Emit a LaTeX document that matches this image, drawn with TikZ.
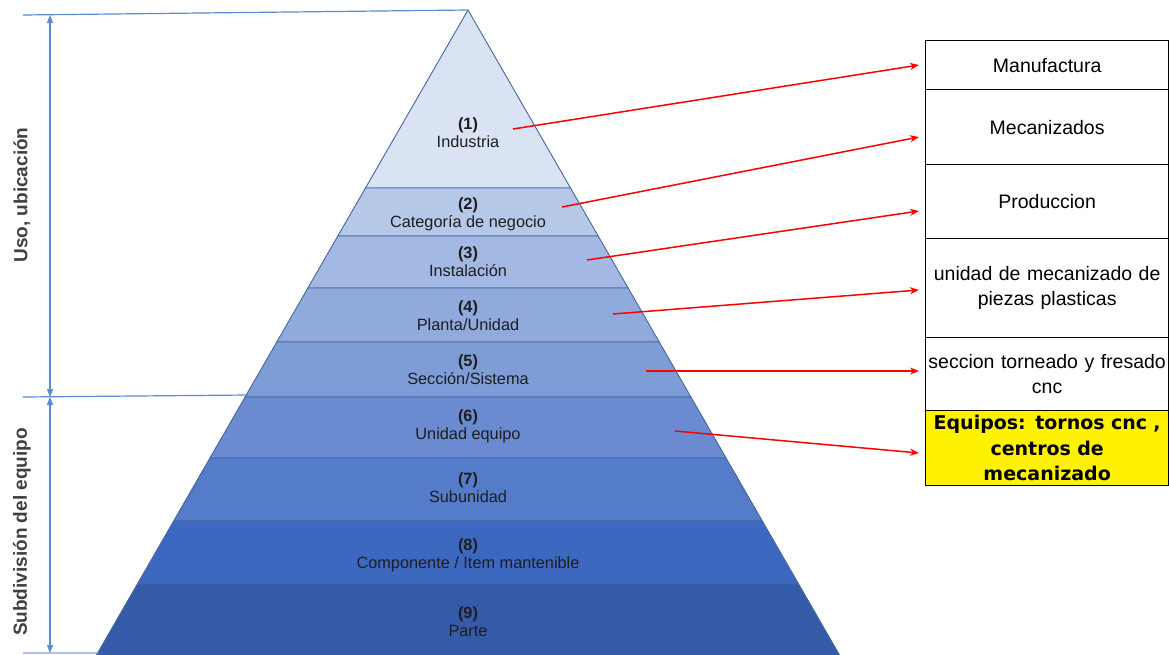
\documentclass[tikz,border=0pt]{standalone}
\usepackage{fontspec}
\setmainfont{Liberation Sans}
\newfontfamily\verafont{DejaVu Sans}
\usetikzlibrary{arrows.meta}

\definecolor{lay1}{HTML}{DAE3F3}
\definecolor{lay2}{HTML}{B6C8E8}
\definecolor{lay3}{HTML}{A3B8E2}
\definecolor{lay4}{HTML}{90AADC}
\definecolor{lay5}{HTML}{7E9CD6}
\definecolor{lay6}{HTML}{6A8BD1}
\definecolor{lay7}{HTML}{557CC9}
\definecolor{lay8}{HTML}{3D68BF}
\definecolor{lay9}{HTML}{355AA8}
\definecolor{laybord}{HTML}{46659F}
\definecolor{dimblue}{HTML}{5B8AD6}
\definecolor{txtdark}{HTML}{1E1E1E}

\tikzset{
  layerlabel/.style={align=center, text=txtdark, inner sep=0pt,
    font=\fontsize{16.3}{18}\selectfont},
  sidelabel/.style={rotate=90, text=black!75, inner sep=0pt,
    font=\bfseries\fontsize{19}{21}\selectfont},
  infobox/.style={draw=black, line width=1.3pt, anchor=north west,
    minimum width=243pt, text width=241pt, align=center, inner sep=0pt,
    font=\fontsize{19.5}{25}\selectfont},
  redarrow/.style={-{Stealth[length=9pt,width=7pt]}, red, line width=1.5pt},
  dimline/.style={dimblue, line width=1.2pt},
  dimarrow/.style={dimblue, line width=1.2pt,
    {Triangle[length=8pt,width=6pt]}-{Triangle[length=8pt,width=6pt]}}
}

\begin{document}
\begin{tikzpicture}[x=1pt,y=-1pt]
\useasboundingbox (0,0) rectangle (1169,654);

% pyramid
\foreach \ya/\yb/\c in {10/188/lay1,188/236/lay2,236/288/lay3,288/342/lay4,
    342/397/lay5,397/458/lay6,458/521/lay7,521/584/lay8,584/662/lay9}{
	\filldraw[fill=\c, draw=laybord, line width=0.9pt]
	  ({468-0.576*(\ya-10)},\ya) -- ({468+0.576*(\ya-10)},\ya)
	  -- ({468+0.576*(\yb-10)},\yb) -- ({468-0.576*(\yb-10)},\yb) -- cycle;
}

\node[layerlabel] (n1) at (468,133) {\textbf{(1)}\\Industria};
\node[layerlabel] (n2) at (468,214) {\textbf{(2)}\\Categoría de negocio};
\node[layerlabel] (n3) at (468,262) {\textbf{(3)}\\Instalación};
\node[layerlabel] (n4) at (468,315.5) {\textbf{(4)}\\Planta/Unidad};
\node[layerlabel] (n5) at (468,369.5) {\textbf{(5)}\\Sección/Sistema};
\node[layerlabel] (n6) at (468,426.5) {\textbf{(6)}\\Unidad equipo};
\node[layerlabel] (n7) at (468,487.5) {\textbf{(7)}\\Subunidad};
\node[layerlabel] (n8) at (468,555) {\textbf{(8)}\\Componente / Item mantenible};
\node[layerlabel] (n9) at (468,621.5) {\textbf{(9)}\\Parte};

% left dimensions
\coordinate (apex) at (468,10);
\coordinate (h1) at (23,15);
\coordinate (h2) at (23,397);
\coordinate (e2) at (248,395);
\coordinate (h3) at (23,653);
\coordinate (e3) at (100,653);
\coordinate (u1) at (50,15);
\coordinate (u2) at (50,397);
\coordinate (u3) at (50,653);

\draw[dimline] (h1) -- (apex);
\draw[dimline] (h2) -- (e2);
\draw[dimline, opacity=0.5] (h3) -- (e3);
\draw[dimarrow] (u1) -- (u2);
\draw[dimarrow] (u2) -- (u3);

\node[sidelabel] (uso) at (22,195) {Uso, ubicación};
\node[sidelabel] (sub) at (22,532) {Subdivisión del equipo};

% boxes
\node[infobox, minimum height=49pt] (b1) at (925,40) {Manufactura};
\node[infobox, minimum height=75pt] (b2) at (925,89) {Mecanizados};
\node[infobox, minimum height=74pt] (b3) at (925,164) {Produccion};
\node[infobox, minimum height=99pt] (b4) at (925,238) {unidad de mecanizado de\\piezas plasticas};
\node[infobox, minimum height=73pt] (b5) at (925,337) {seccion torneado y fresado\\cnc};
\node[infobox, minimum height=75pt, fill=yellow,
      font=\verafont\bfseries\fontsize{19}{25.5}\selectfont] (b6) at (925,410)
      {Equipos: tornos cnc ,\\centros de\\mecanizado};

% red arrows
\coordinate (s1) at (513,129);
\coordinate (s2) at (562,207);
\coordinate (s3) at (587,260);
\coordinate (s4) at (613,314);
\coordinate (s5) at (646,371);
\coordinate (s6) at (675,431);
\coordinate (t1) at (919,65);
\coordinate (t2) at (919,137);
\coordinate (t3) at (919,211);
\coordinate (t4) at (919,290);
\coordinate (t5) at (919,371);
\coordinate (t6) at (919,453);

\foreach \i in {1,...,6}{
	\draw[redarrow] (s\i) -- (t\i);
}

\end{tikzpicture}
\end{document}
